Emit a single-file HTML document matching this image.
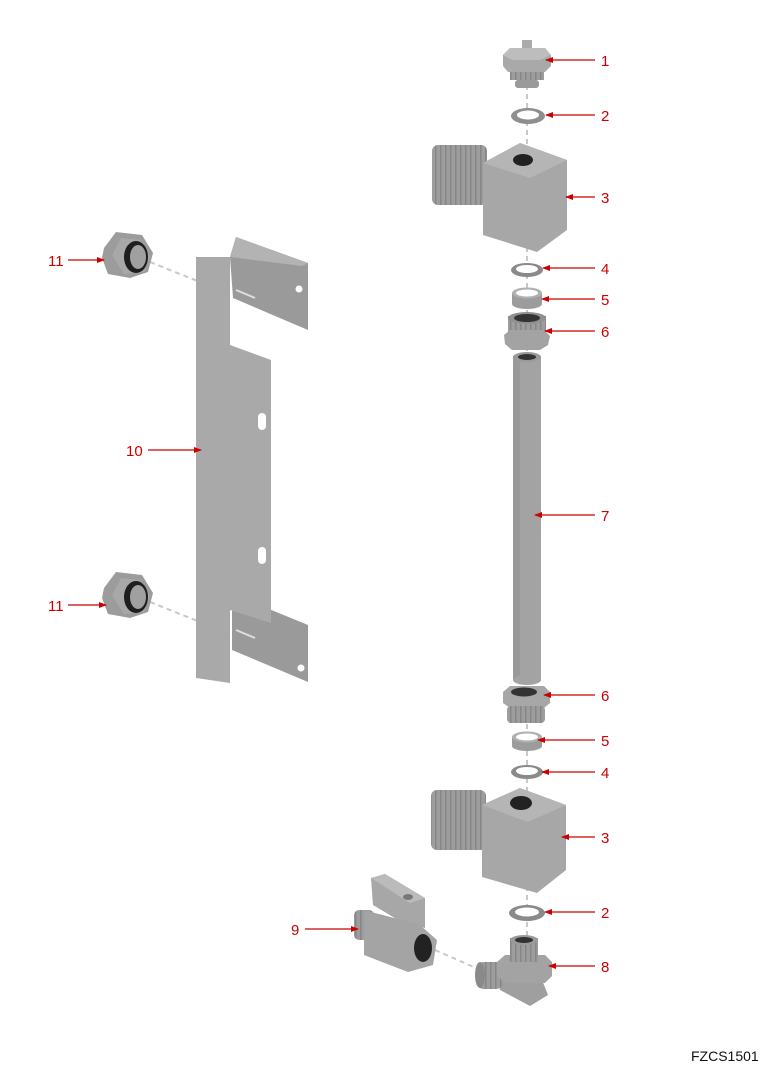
<!DOCTYPE html>
<html><head><meta charset="utf-8"><style>
html,body{margin:0;padding:0;background:#fff;}
svg{display:block}
text{font-family:"Liberation Sans",sans-serif;}
</style></head><body>
<svg width="769" height="1075" viewBox="0 0 769 1075" xmlns="http://www.w3.org/2000/svg">
<defs>
<marker id="ar" markerWidth="8" markerHeight="6" refX="7" refY="3" orient="auto" markerUnits="userSpaceOnUse"><path d="M0,0 L8,3 L0,6 z" fill="#cc0000"/></marker>
<linearGradient id="thr" x1="0" y1="0" x2="1" y2="0">
<stop offset="0" stop-color="#8e8e8e"/><stop offset="0.5" stop-color="#a6a6a6"/><stop offset="1" stop-color="#8a8a8a"/></linearGradient>
<pattern id="ribs" width="5" height="10" patternUnits="userSpaceOnUse"><rect width="5" height="10" fill="#9d9d9d"/><rect width="1.5" height="10" fill="#868686"/></pattern>
</defs>

<!-- dashed center axis -->
<g stroke="#c8c8c8" stroke-width="2" stroke-dasharray="5,4">
<line x1="527" y1="85" x2="527" y2="1000"/>
<line x1="150" y1="262" x2="245" y2="300"/>
<line x1="150" y1="602" x2="245" y2="640"/>
<line x1="435" y1="950" x2="485" y2="972"/>
</g>

<!-- Part 1 -->
<rect x="522" y="40" width="10" height="15" fill="#ababab"/>
<polygon points="503,55 510,48 545,48 551,55 551,66 545,72 508,72 503,66" fill="#a9a9a9"/>
<polygon points="503,55 510,48 545,48 551,55 540,60 512,60" fill="#bdbdbd"/>
<rect x="510" y="72" width="34" height="8" fill="url(#ribs)"/>
<rect x="515" y="80" width="24" height="8" rx="3" fill="#9a9a9a"/>

<!-- Washer 2 top -->
<ellipse cx="528" cy="116" rx="17" ry="8" fill="#8f8f8f"/>
<ellipse cx="528" cy="115" rx="11" ry="4.5" fill="#fff"/>

<!-- Block 3 upper -->
<rect x="432" y="145" width="55" height="60" rx="6" fill="url(#ribs)"/>
<polygon points="483,163 520,143 567,160 567,230 537,252 483,235" fill="#a7a7a7"/>
<polygon points="483,163 520,143 567,160 530,178" fill="#b5b5b5"/>
<ellipse cx="523" cy="160" rx="10" ry="6" fill="#222"/>

<!-- 4 -->
<ellipse cx="527" cy="270" rx="16" ry="7" fill="#8a8a8a"/>
<ellipse cx="527" cy="269" rx="11" ry="4" fill="#fff"/>
<!-- 5 -->
<rect x="512" y="293" width="30" height="11" fill="#9c9c9c"/>
<ellipse cx="527" cy="304" rx="15" ry="5" fill="#9c9c9c"/>
<ellipse cx="527" cy="293" rx="15" ry="5.5" fill="#b0b0b0"/>
<ellipse cx="527" cy="293" rx="11" ry="3.5" fill="#fff"/>
<!-- 6 upper -->
<rect x="508" y="316" width="38" height="22" fill="url(#ribs)"/>
<polygon points="504,335 510,330 544,330 550,336 548,345 540,350 512,350 505,344" fill="#a3a3a3"/>
<ellipse cx="527" cy="318" rx="19" ry="6" fill="#909090"/>
<ellipse cx="527" cy="318" rx="13" ry="4" fill="#333"/>

<!-- 7 tube -->
<rect x="513" y="356" width="28" height="324" fill="#a3a3a3"/>
<rect x="513" y="356" width="7" height="324" fill="#999"/>
<ellipse cx="527" cy="357" rx="14" ry="5" fill="#9a9a9a"/>
<ellipse cx="527" cy="357" rx="9" ry="3" fill="#333"/>
<ellipse cx="527" cy="680" rx="14" ry="5" fill="#a3a3a3"/>

<!-- 6 lower -->
<polygon points="503,692 510,686 544,686 550,692 550,703 544,708 510,708 503,703" fill="#a7a7a7"/>
<ellipse cx="524" cy="692" rx="13" ry="4.5" fill="#333"/>
<rect x="507" y="706" width="38" height="17" rx="4" fill="url(#ribs)"/>
<!-- 5 lower -->
<rect x="512" y="737" width="30" height="9" fill="#9c9c9c"/>
<ellipse cx="527" cy="746" rx="15" ry="5" fill="#9c9c9c"/>
<ellipse cx="527" cy="737" rx="15" ry="5.5" fill="#b0b0b0"/>
<ellipse cx="527" cy="737" rx="11" ry="3.5" fill="#fff"/>
<!-- 4 lower -->
<ellipse cx="527" cy="772" rx="16" ry="7" fill="#8a8a8a"/>
<ellipse cx="527" cy="771" rx="11" ry="4" fill="#fff"/>

<!-- Block 3 lower -->
<rect x="431" y="790" width="55" height="60" rx="6" fill="url(#ribs)"/>
<polygon points="482,805 520,788 566,805 566,870 537,893 482,877" fill="#a7a7a7"/>
<polygon points="482,805 520,788 566,805 528,822" fill="#b5b5b5"/>
<ellipse cx="521" cy="803" rx="11" ry="7" fill="#222"/>

<!-- 2 lower -->
<ellipse cx="527" cy="913" rx="18" ry="8" fill="#8a8a8a"/>
<ellipse cx="527" cy="912" rx="12" ry="4.5" fill="#fff"/>

<!-- 8 elbow -->
<path d="M495,965 L540,975 L548,995 L530,1006 L500,990 Z" fill="#9f9f9f"/>
<rect x="476" y="962" width="28" height="27" rx="8" fill="url(#ribs)"/>
<ellipse cx="480" cy="975" rx="5" ry="13" fill="#8a8a8a"/>
<polygon points="497,962 505,955 545,955 552,962 552,976 545,983 505,983 497,976" fill="#a3a3a3"/>
<rect x="510" y="938" width="28" height="24" fill="url(#ribs)"/>
<ellipse cx="524" cy="940" rx="14" ry="5" fill="#9a9a9a"/>
<ellipse cx="524" cy="940" rx="9" ry="3" fill="#333"/>

<!-- 9 valve -->
<polygon points="371,878 385,874 425,898 425,928 398,920 373,905" fill="#a7a7a7"/>
<polygon points="371,878 385,874 425,898 410,903" fill="#bbbbbb"/>
<ellipse cx="408" cy="897" rx="5" ry="3" fill="#777"/>
<rect x="354" y="910" width="20" height="30" rx="5" fill="url(#ribs)"/>
<polygon points="364,910 420,925 437,940 433,965 408,972 364,955" fill="#a4a4a4"/>
<ellipse cx="423" cy="948" rx="9" ry="14" fill="#222"/>

<!-- 10 bracket -->
<polygon points="230,257 236,237 308,263 308,330 233,298" fill="#9a9a9a"/>
<polygon points="230,257 236,237 308,263 302,266" fill="#b3b3b3"/>
<circle cx="299" cy="289" r="3.5" fill="#fff"/>
<polygon points="232,610 242,598 308,625 308,682 232,650" fill="#9a9a9a"/>
<circle cx="301" cy="668" r="3.5" fill="#fff"/>
<polygon points="196,257 230,257 230,345 271,360 271,623 230,610 230,683 196,678" fill="#a9a9a9"/>
<rect x="258" y="413" width="8" height="17" rx="4" fill="#fff"/>
<rect x="258" y="547" width="8" height="17" rx="4" fill="#fff"/>
<g stroke="#ddd" stroke-width="2"><line x1="236" y1="290" x2="255" y2="298"/><line x1="236" y1="630" x2="255" y2="638"/></g>

<!-- 11 nuts -->
<g>
<polygon points="104,248 116,232 142,235 153,253 148,272 130,278 108,274 102,258" fill="#9c9c9c"/>
<polygon points="112,255 121,238 140,240 150,256 144,272 124,274" fill="#a8a8a8"/>
<ellipse cx="136" cy="257" rx="12" ry="16" fill="#1e1e1e"/>
<ellipse cx="138" cy="257" rx="8" ry="12" fill="#a0a0a0"/>
</g>
<g>
<polygon points="104,588 116,572 142,575 153,593 148,612 130,618 108,614 102,598" fill="#9c9c9c"/>
<polygon points="112,595 121,578 140,580 150,596 144,612 124,614" fill="#a8a8a8"/>
<ellipse cx="136" cy="597" rx="12" ry="16" fill="#1e1e1e"/>
<ellipse cx="138" cy="597" rx="8" ry="12" fill="#a0a0a0"/>
</g>

<!-- leaders -->
<g stroke="#cc0000" stroke-width="1.2" marker-end="url(#ar)">
<line x1="595" y1="60" x2="546" y2="60"/>
<line x1="595" y1="115" x2="546" y2="115"/>
<line x1="595" y1="197" x2="566" y2="197"/>
<line x1="595" y1="268" x2="543" y2="268"/>
<line x1="595" y1="299" x2="542" y2="299"/>
<line x1="595" y1="331" x2="545" y2="331"/>
<line x1="595" y1="515" x2="535" y2="515"/>
<line x1="595" y1="695" x2="544" y2="695"/>
<line x1="595" y1="740" x2="538" y2="740"/>
<line x1="595" y1="772" x2="542" y2="772"/>
<line x1="595" y1="837" x2="562" y2="837"/>
<line x1="595" y1="912" x2="545" y2="912"/>
<line x1="595" y1="966" x2="549" y2="966"/>
<line x1="305" y1="929" x2="358" y2="929"/>
<line x1="148" y1="450" x2="201" y2="450"/>
<line x1="68" y1="260" x2="104" y2="260"/>
<line x1="68" y1="605" x2="106" y2="605"/>
</g>
<g fill="#cc0000" font-size="15">
<text x="601" y="66">1</text>
<text x="601" y="121">2</text>
<text x="601" y="203">3</text>
<text x="601" y="274">4</text>
<text x="601" y="305">5</text>
<text x="601" y="337">6</text>
<text x="601" y="521">7</text>
<text x="601" y="701">6</text>
<text x="601" y="746">5</text>
<text x="601" y="778">4</text>
<text x="601" y="843">3</text>
<text x="601" y="918">2</text>
<text x="601" y="972">8</text>
<text x="291" y="935">9</text>
<text x="126" y="456">10</text>
<text x="48" y="266">11</text>
<text x="48" y="611">11</text>
</g>
<text x="691" y="1061" font-size="14" fill="#111">FZCS1501</text>
</svg>
</body></html>
